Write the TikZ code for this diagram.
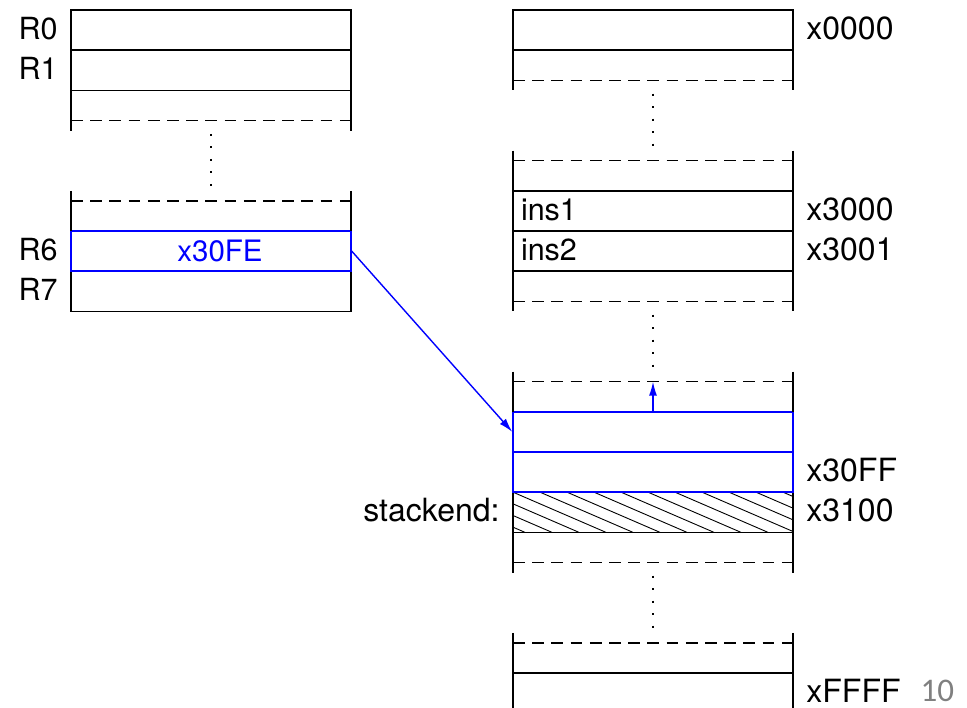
\documentclass[tikz,border=0pt]{standalone}
\usepackage{fontspec}
\setmainfont{TeX Gyre Heros}
\newfontfamily\pagefont{Carlito}
\usetikzlibrary{arrows.meta,positioning}
\definecolor{ptrblue}{RGB}{0,0,255}
\tikzset{
	cell/.style={draw, minimum width=280pt, minimum height=40.18pt, inner sep=0pt},
	ptrcell/.style={cell, draw=ptrblue},
	wall/.style={line width=1.4pt},
	gap/.style={line width=1.4pt, dash pattern=on 11.7pt off 7.5pt},
	skip/.style={line width=2pt, dash pattern=on 2pt off 10.5pt},
	reglbl/.style={inner sep=0pt, font=\fontsize{30.5}{36}\selectfont},
	memlbl/.style={inner sep=0pt, font=\fontsize{32}{38}\selectfont},
	ptr/.style={draw=ptrblue, line width=1.4pt, -{Latex[length=14pt,width=8pt]}},
}
\begin{document}
\begin{tikzpicture}[
		x={(1pt,0pt)},
		y={(0pt,-40.18pt)},
		line width=1.4pt,
	]
	\useasboundingbox (0,-0.249) rectangle (967,17.363);

	% register file
	\foreach \name/\r in {r0/0, r1/1, r7/6.5}{
		\node[cell] (\name) at (211,\r+0.5) {};
	}
	\node[ptrcell] (r6) at (211,6) {};
	\node[reglbl, text=ptrblue, font=\fontsize{29.5}{34}\selectfont] (r6val) at ([xshift=9pt]r6.center) {x30FE};
	\foreach \name/\txt in {r0/R0, r1/R1, r6/R6, r7/R7}{
		\node[reglbl, anchor=base east] (l\name) at ([xshift=-12pt,yshift=-9.5pt]\name.west) {\txt};
	}

	% memory
	\foreach \name/\r in {m0/0, ins1/4.5, ins2/5.5, mlast/16.5}{
		\node[cell] (\name) at (653,\r+0.5) {};
	}
	\begin{scope}
		\clip (513,12) rectangle (793,13);
		\foreach \i in {-4,...,11}{
			\draw[line width=0.9pt] (513+27*\i,12) -- ++(93,1);
		}
	\end{scope}
	\node[cell] (send) at (653,12.5) {};
	\node[ptrcell] (s1) at (653,10.5) {};
	\node[ptrcell] (s2) at (653,11.5) {};

	\node[reglbl, anchor=base west] (cins1) at ([xshift=8pt,yshift=-9.5pt]ins1.west) {ins1};
	\node[reglbl, anchor=base west] (cins2) at ([xshift=8pt,yshift=-9.5pt]ins2.west) {ins2};
	\foreach \name/\txt in {m0/x0000, ins1/x3000, ins2/x3001, s2/x30FF, send/x3100, mlast/xFFFF}{
		\node[memlbl, anchor=base west] (a\name) at ([xshift=12pt,yshift=-9.5pt]\name.east) {\txt};
	}
	\node[memlbl, anchor=base east] (stackend) at ([xshift=-12pt,yshift=-9.5pt]send.west) {stackend:};

	% elided rows
	\foreach \x/\b in {211/2, 653/1, 653/6.5, 653/13}{
		\draw[wall] (\x-140,\b) -- (\x-140,\b+1) (\x+140,\b) -- (\x+140,\b+1);
		\draw[gap] (\x-140,\b+0.75) -- (\x+140,\b+0.75);
		\draw[skip] (\x,\b+1.08) -- (\x,\b+2.5);
		\draw[wall] (\x-140,\b+2.5) -- (\x-140,\b+3.5) (\x+140,\b+2.5) -- (\x+140,\b+3.5);
		\draw[gap] (\x-140,\b+2.75) -- (\x+140,\b+2.75);
	}

	% pointers
	\coordinate (grow) at (653,9.25);
	\draw[ptr] (r6.east) -- (s1.west);
	\draw[ptr] (s1.north) -- (grow);

	\node[inner sep=0pt, text=gray, font=\pagefont\fontsize{33}{40}\selectfont, anchor=base west] (pagenum) at (920,17.22) {10};
\end{tikzpicture}
\end{document}
